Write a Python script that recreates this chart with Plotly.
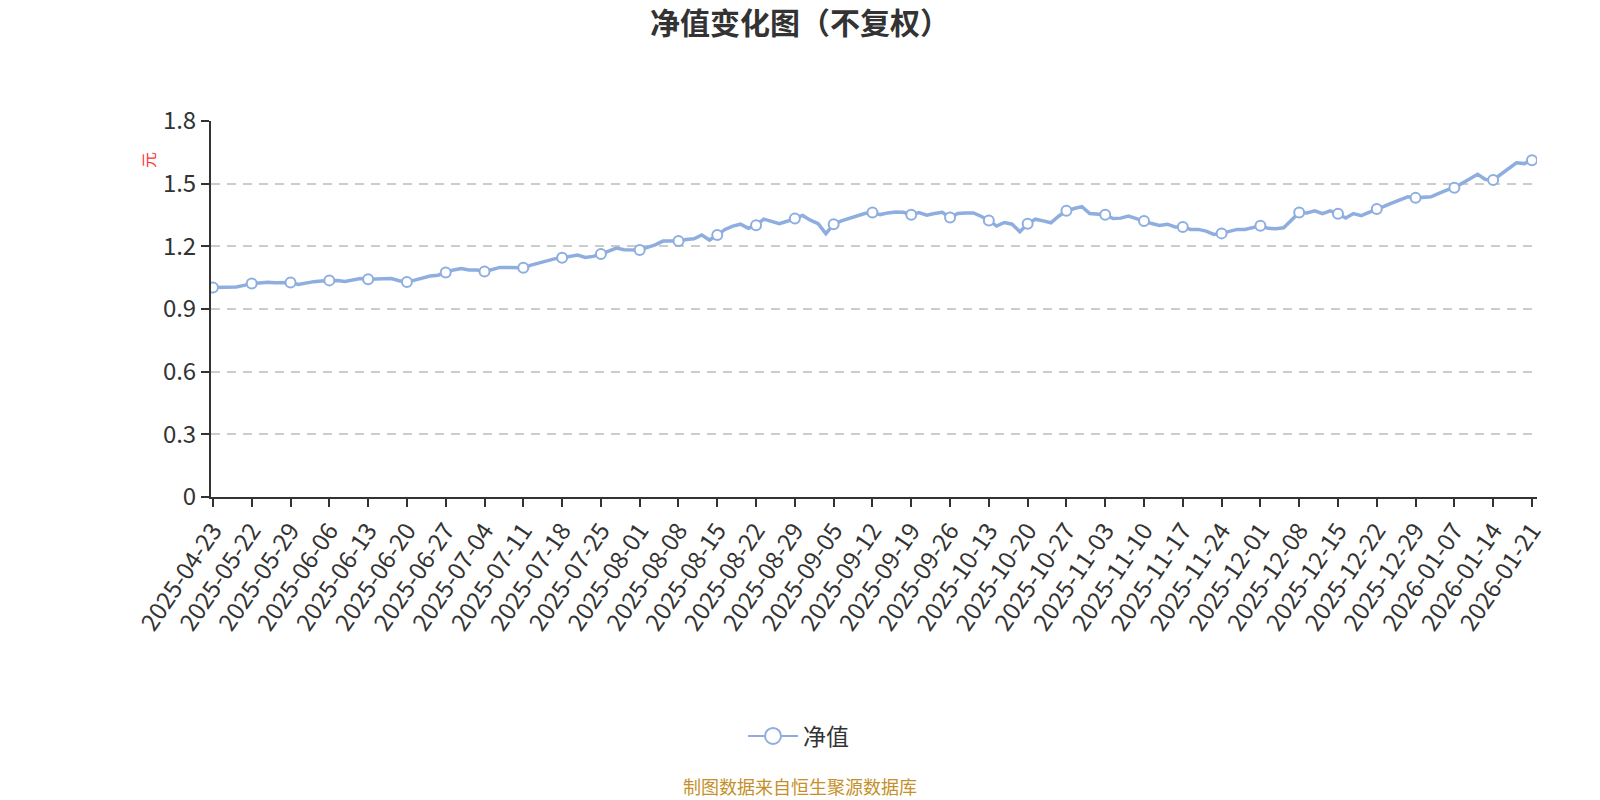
import plotly.graph_objects as go

dates = """
2025-04-23 2025-05-16 2025-05-19 2025-05-20 2025-05-21
2025-05-22 2025-05-23 2025-05-26 2025-05-27 2025-05-28
2025-05-29 2025-05-30 2025-06-03 2025-06-04 2025-06-05
2025-06-06 2025-06-09 2025-06-10 2025-06-11 2025-06-12
2025-06-13 2025-06-16 2025-06-17 2025-06-18 2025-06-19
2025-06-20 2025-06-23 2025-06-24 2025-06-25 2025-06-26
2025-06-27 2025-06-30 2025-07-01 2025-07-02 2025-07-03
2025-07-04 2025-07-07 2025-07-08 2025-07-09 2025-07-10
2025-07-11 2025-07-14 2025-07-15 2025-07-16 2025-07-17
2025-07-18 2025-07-21 2025-07-22 2025-07-23 2025-07-24
2025-07-25 2025-07-28 2025-07-29 2025-07-30 2025-07-31
2025-08-01 2025-08-04 2025-08-05 2025-08-06 2025-08-07
2025-08-08 2025-08-11 2025-08-12 2025-08-13 2025-08-14
2025-08-15 2025-08-18 2025-08-19 2025-08-20 2025-08-21
2025-08-22 2025-08-25 2025-08-26 2025-08-27 2025-08-28
2025-08-29 2025-09-01 2025-09-02 2025-09-03 2025-09-04
2025-09-05 2025-09-08 2025-09-09 2025-09-10 2025-09-11
2025-09-12 2025-09-15 2025-09-16 2025-09-17 2025-09-18
2025-09-19 2025-09-22 2025-09-23 2025-09-24 2025-09-25
2025-09-26 2025-09-29 2025-09-30 2025-10-09 2025-10-10
2025-10-13 2025-10-14 2025-10-15 2025-10-16 2025-10-17
2025-10-20 2025-10-21 2025-10-22 2025-10-23 2025-10-24
2025-10-27 2025-10-28 2025-10-29 2025-10-30 2025-10-31
2025-11-03 2025-11-04 2025-11-05 2025-11-06 2025-11-07
2025-11-10 2025-11-11 2025-11-12 2025-11-13 2025-11-14
2025-11-17 2025-11-18 2025-11-19 2025-11-20 2025-11-21
2025-11-24 2025-11-25 2025-11-26 2025-11-27 2025-11-28
2025-12-01 2025-12-02 2025-12-03 2025-12-04 2025-12-05
2025-12-08 2025-12-09 2025-12-10 2025-12-11 2025-12-12
2025-12-15 2025-12-16 2025-12-17 2025-12-18 2025-12-19
2025-12-22 2025-12-23 2025-12-24 2025-12-25 2025-12-26
2025-12-29 2025-12-30 2025-12-31 2026-01-05 2026-01-06
2026-01-07 2026-01-08 2026-01-09 2026-01-12 2026-01-13
2026-01-14 2026-01-15 2026-01-16 2026-01-19 2026-01-20
2026-01-21
""".split()

nav = [
    1.003, 1.003, 1.003, 1.005, 1.013,
    1.022, 1.025, 1.028, 1.026, 1.027,
    1.027, 1.018, 1.026, 1.031, 1.034,
    1.037, 1.036, 1.032, 1.040, 1.046,
    1.042, 1.043, 1.045, 1.046, 1.035,
    1.029, 1.038, 1.050, 1.058, 1.062,
    1.075, 1.087, 1.094, 1.087, 1.087,
    1.080, 1.089, 1.099, 1.099, 1.097,
    1.097, 1.110, 1.121, 1.129, 1.140,
    1.145, 1.153, 1.158, 1.147, 1.152,
    1.163, 1.176, 1.192, 1.184, 1.182,
    1.182, 1.195, 1.207, 1.225, 1.226,
    1.226, 1.233, 1.236, 1.254, 1.230,
    1.254, 1.281, 1.297, 1.306, 1.286,
    1.301, 1.330, 1.320, 1.309, 1.320,
    1.333, 1.348, 1.325, 1.309, 1.261,
    1.306, 1.322, 1.333, 1.344, 1.357,
    1.362, 1.352, 1.360, 1.364, 1.363,
    1.351, 1.362, 1.349, 1.357, 1.363,
    1.338, 1.357, 1.360, 1.360, 1.344,
    1.324, 1.297, 1.314, 1.306, 1.270,
    1.308, 1.330, 1.322, 1.313, 1.344,
    1.370, 1.381, 1.390, 1.357, 1.354,
    1.351, 1.333, 1.335, 1.345, 1.332,
    1.321, 1.309, 1.300, 1.306, 1.293,
    1.293, 1.281, 1.281, 1.273, 1.257,
    1.262, 1.271, 1.281, 1.281, 1.290,
    1.298, 1.286, 1.284, 1.289, 1.328,
    1.362, 1.360, 1.370, 1.356, 1.370,
    1.356, 1.336, 1.357, 1.347, 1.362,
    1.379, 1.392, 1.408, 1.424, 1.437,
    1.432, 1.435, 1.437, 1.453, 1.469,
    1.480, 1.501, 1.521, 1.545, 1.520,
    1.518, 1.545, 1.572, 1.600, 1.596,
    1.612,
]

tick_labels = [
    "2025-04-23", "2025-05-22", "2025-05-29", "2025-06-06", "2025-06-13",
    "2025-06-20", "2025-06-27", "2025-07-04", "2025-07-11", "2025-07-18",
    "2025-07-25", "2025-08-01", "2025-08-08", "2025-08-15", "2025-08-22",
    "2025-08-29", "2025-09-05", "2025-09-12", "2025-09-19", "2025-09-26",
    "2025-10-13", "2025-10-20", "2025-10-27", "2025-11-03", "2025-11-10",
    "2025-11-17", "2025-11-24", "2025-12-01", "2025-12-08", "2025-12-15",
    "2025-12-22", "2025-12-29", "2026-01-07", "2026-01-14", "2026-01-21",
]
y_ticks = [0, 0.3, 0.6, 0.9, 1.2, 1.5, 1.8]

series_name = "净值"
title_text = "净值变化图（不复权）"
unit_text = "元"
source_text = "制图数据来自恒生聚源数据库"

FONT = "Noto Sans CJK SC"
LINE_C = "#8eaee0"
TXT_C = "#333333"

# plot area in pixels
PL, PR, PT, PB = 211, 1537, 121, 497
PW, PH = PR - PL, PB - PT

mark_idx = [dates.index(d) for d in tick_labels]
mark_x = [dates[i] for i in mark_idx]
mark_y = [nav[i] for i in mark_idx]

fig = go.Figure()
fig.add_trace(go.Scatter(
    x=dates, y=nav, mode="lines", name=series_name, showlegend=False,
    line=dict(color=LINE_C, width=3.5), hoverinfo="x+y",
))
fig.add_trace(go.Scatter(
    x=mark_x, y=mark_y, mode="markers", name=series_name, showlegend=False,
    marker=dict(size=10, color="white", line=dict(color=LINE_C, width=2)),
))
# legend entry
fig.add_trace(go.Scatter(
    x=[None], y=[None], mode="lines+markers", name=series_name,
    line=dict(color=LINE_C, width=2),
    marker=dict(size=16, color="white", line=dict(color=LINE_C, width=2)),
))

fig.update_layout(
    width=1600, height=800,
    paper_bgcolor="white", plot_bgcolor="white",
    margin=dict(l=PL, r=1600 - PR, t=PT, b=800 - PB, autoexpand=False),
    font=dict(family=FONT, color=TXT_C),
    title=dict(text="<b>" + title_text + "</b>", x=0.5, xanchor="center",
               y=1 - 23 / 800, yanchor="middle",
               font=dict(size=30, color=TXT_C, family=FONT)),
    showlegend=True,
    legend=dict(orientation="h", x=(743 - PL) / PW, xanchor="left",
                y=(PB - 736) / PH, yanchor="middle", itemwidth=50,
                font=dict(size=23, color=TXT_C, family=FONT),
                bgcolor="rgba(0,0,0,0)"),
    xaxis=dict(
        type="category", range=[-0.25, len(dates) - 1 + 0.65],
        tickmode="array", tickvals=tick_labels, ticktext=tick_labels,
        tickangle=-56, tickfont=dict(size=24, color=TXT_C, family=FONT),
        showline=True, linecolor=TXT_C, linewidth=2,
        ticks="outside", ticklen=8, tickwidth=2, tickcolor=TXT_C,
        showgrid=False, zeroline=False,
    ),
    yaxis=dict(
        range=[0, 1.8], tickmode="array", tickvals=y_ticks,
        ticktext=[("%g" % v) for v in y_ticks],
        tickfont=dict(size=24, color=TXT_C, family=FONT),
        showline=True, linecolor=TXT_C, linewidth=2,
        ticks="outside", ticklen=8, tickwidth=2, tickcolor=TXT_C,
        showgrid=True, gridcolor="#cccccc", gridwidth=1.5, griddash="9px,7px",
        zeroline=False,
    ),
    annotations=[
        dict(text=unit_text, xref="paper", yref="paper",
             x=(148 - PL) / PW, y=(PB - 160) / PH, xanchor="center", yanchor="middle",
             textangle=-90, showarrow=False,
             font=dict(size=16, color="#ff3333", family=FONT)),
        dict(text=source_text, xref="paper", yref="paper",
             x=(800 - PL) / PW, y=(PB - 786) / PH, xanchor="center", yanchor="middle",
             showarrow=False, font=dict(size=18, color="#c59029", family=FONT)),
    ],
)

fig.write_html(
    "out.html",
    config={"displayModeBar": False},
    post_script="document.body.style.margin='0';document.body.style.overflow='hidden';",
)
